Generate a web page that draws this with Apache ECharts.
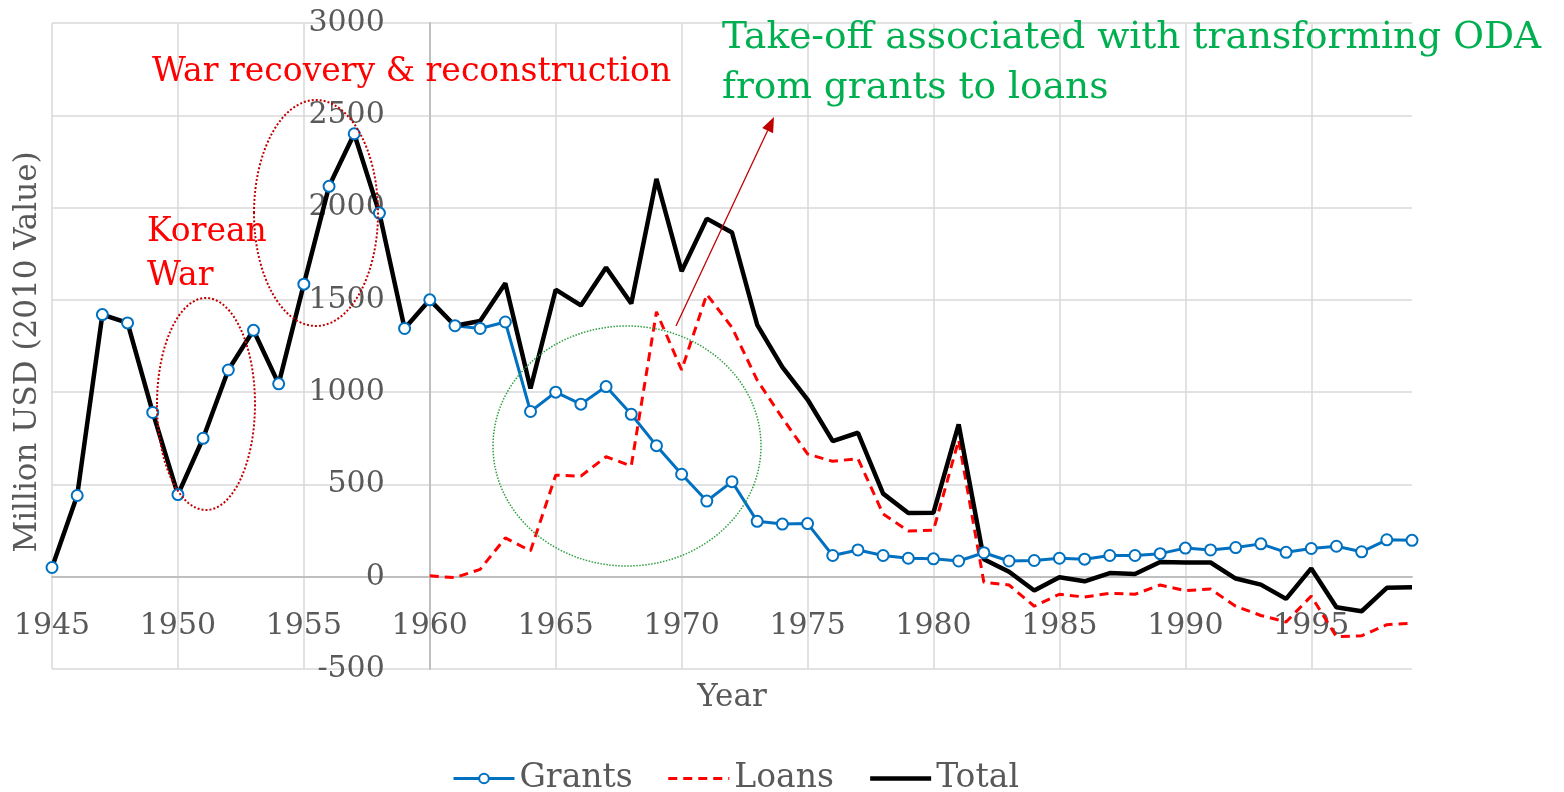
<!DOCTYPE html>
<html>
<head>
<meta charset="utf-8">
<script src="https://cdn.jsdelivr.net/npm/echarts@6/dist/echarts.min.js"></script>
<style>
html,body{margin:0;padding:0;background:#fff}
#chart{width:1564px;height:792px}
</style>
</head>
<body>
<div id="chart"></div>
<script>
// data (million USD, 2010 value)
var years = [1945,1946,1947,1948,1949,1950,1951,1952,1953,1954,1955,1956,1957,1958,1959,
  1960,1961,1962,1963,1964,1965,1966,1967,1968,1969,1970,1971,1972,1973,1974,
  1975,1976,1977,1978,1979,1980,1981,1982,1983,1984,1985,1986,1987,1988,1989,
  1990,1991,1992,1993,1994,1995,1996,1997,1998,1999];
var grants = [50,440,1420,1375,890,445,750,1120,1335,1045,1585,2115,2400,1970,1345,
  1500,1360,1345,1380,895,1000,935,1030,880,710,555,410,515,300,285,
  288,115,145,115,100,97,85,130,85,88,100,95,115,115,125,
  155,145,158,178,132,153,165,135,200,197];
var total = [50,440,1420,1375,890,445,750,1120,1335,1045,1585,2115,2400,1970,1345,
  1500,1360,1385,1590,1020,1555,1470,1675,1480,2155,1655,1940,1865,1365,1135,
  960,735,780,450,345,347,825,95,27,-75,-3,-25,20,15,80,
  77,77,-10,-43,-120,45,-165,-187,-60,-57];
var loanYears = [1960,1961,1962,1963,1964,1965,1966,1967,1968,1969,1970,1971,1972,1973,1974,
  1975,1976,1977,1978,1979,1980,1981,1982,1983,1984,1985,1986,1987,1988,1989,
  1990,1991,1992,1993,1994,1995,1996,1997,1998,1999];
var loans = [5,-5,40,210,140,550,545,650,600,1435,1120,1530,1350,1065,860,
  665,625,640,340,248,252,740,-30,-45,-160,-95,-110,-90,-95,-45,
  -75,-67,-160,-210,-245,-105,-325,-320,-260,-252];

var xRange = [1945, 1999];
var xStep = 5;
var yRange = [-500, 3000];
var yStep = 500;
var yCross = 1960;

var FONT = "'DejaVu Serif', serif";
var grey = '#595959';

function pairs(xs, vs) {
  return xs.map(function (x, i) { return [x, vs[i]]; });
}

var gridLeft = 52, gridRight = 152, gridTop = 23, gridBottom = 123;
var gridW = 1564 - gridLeft - gridRight;
var gridH = 792 - gridTop - gridBottom;
// the y axis crosses at 1960, the x axis at 0
var yOffset = -(yCross - xRange[0]) / (xRange[1] - xRange[0]) * gridW;
var xOffset = -(0 - yRange[0]) / (yRange[1] - yRange[0]) * gridH;

// arrow geometry
var a0 = [676, 326], a1 = [774, 117];
var dx = a1[0] - a0[0], dy = a1[1] - a0[1], len = Math.sqrt(dx * dx + dy * dy);
var ux = dx / len, uy = dy / len, nx = -uy, ny = ux;
var hb = [a1[0] - 15 * ux, a1[1] - 15 * uy];

var chart = echarts.init(document.getElementById('chart'));
chart.setOption({
  animation: false,
  textStyle: { fontFamily: FONT },
  grid: { left: gridLeft, right: gridRight, top: gridTop, bottom: gridBottom,
    containLabel: false, outerBoundsMode: 'none' },
  xAxis: {
    type: 'value',
    min: xRange[0], max: xRange[1], interval: xStep,
    offset: xOffset,
    name: 'Year', nameLocation: 'middle', nameGap: 106,
    nameTextStyle: { fontFamily: FONT, fontSize: 31, color: grey },
    axisLine: { onZero: false, lineStyle: { color: '#BFBFBF', width: 2 } },
    axisTick: { show: false },
    axisLabel: { fontFamily: FONT, fontSize: 30, color: grey, margin: 34, showMaxLabel: false,
      formatter: function (v) { return String(v); } },
    splitLine: { show: true, showMaxLine: false, lineStyle: { color: '#D9D9D9', width: 1.5 } }
  },
  yAxis: {
    type: 'value',
    min: yRange[0], max: yRange[1], interval: yStep,
    offset: yOffset,
    axisLine: { show: true, onZero: false, lineStyle: { color: '#BFBFBF', width: 2 } },
    axisTick: { show: false },
    axisLabel: { fontFamily: FONT, fontSize: 30, color: grey, margin: 45,
      formatter: function (v) { return String(v); } },
    splitLine: { show: true, lineStyle: { color: '#D9D9D9', width: 1.5 } }
  },
  legend: {
    left: 447, top: 757,
    itemWidth: 61, itemHeight: 12, itemGap: 34,
    textStyle: { fontFamily: FONT, fontSize: 33, color: grey },
    data: [
      { name: 'Grants', lineStyle: { width: 3 } },
      { name: 'Loans', itemStyle: { opacity: 0 }, lineStyle: { width: 3 } },
      { name: 'Total', itemStyle: { opacity: 0 }, lineStyle: { width: 4.5 } }
    ]
  },
  series: [
    {
      name: 'Grants', type: 'line', data: pairs(years, grants),
      symbol: 'emptyCircle', symbolSize: 11, showAllSymbol: true,
      lineStyle: { color: '#0070C0', width: 3 },
      itemStyle: { color: '#0070C0', borderWidth: 2 }
    },
    {
      name: 'Loans', type: 'line', data: pairs(loanYears, loans),
      symbol: 'none',
      lineStyle: { color: '#FF0000', width: 3, type: [9, 6] },
      itemStyle: { color: '#FF0000' }
    },
    {
      name: 'Total', type: 'line', data: pairs(years, total),
      symbol: 'none',
      lineStyle: { color: '#000000', width: 4.5 },
      itemStyle: { color: '#000000' }
    }
  ],
  graphic: [
    { type: 'text', rotation: Math.PI / 2, x: 28, y: 352,
      style: { text: 'Million USD (2010 Value)', fill: grey, font: '31px ' + FONT, textAlign: 'center', textVerticalAlign: 'middle' } },
    { type: 'text', x: 152, y: 72, z: 10,
      style: { text: 'War recovery & reconstruction', fill: '#FF0000', font: '33px ' + FONT, textVerticalAlign: 'middle' } },
    { type: 'text', x: 147, y: 210, z: 10,
      style: { text: 'Korean\nWar', fill: '#FF0000', font: '33px ' + FONT, lineHeight: 44 } },
    { type: 'text', x: 722, y: 13, z: 10,
      style: { text: 'Take-off associated with transforming ODA\nfrom grants to loans', fill: '#00B050', font: '37.5px ' + FONT, lineHeight: 50 } },
    { type: 'ellipse', z: 10, shape: { cx: 206, cy: 404, rx: 49, ry: 106 },
      style: { fill: 'none', stroke: '#C00000', lineWidth: 2, lineDash: [2, 2] } },
    { type: 'ellipse', z: 10, shape: { cx: 316, cy: 213, rx: 62, ry: 113 },
      style: { fill: 'none', stroke: '#C00000', lineWidth: 2, lineDash: [2, 2] } },
    { type: 'ellipse', z: 10, shape: { cx: 627, cy: 446, rx: 134, ry: 120 },
      style: { fill: 'none', stroke: '#2E9E3E', lineWidth: 1.5, lineDash: [1.5, 1.5] } },
    { type: 'line', z: 10, shape: { x1: a0[0], y1: a0[1], x2: hb[0], y2: hb[1] },
      style: { stroke: '#C00000', lineWidth: 1.3 } },
    { type: 'polygon', z: 10,
      shape: { points: [a1, [hb[0] + 6 * nx, hb[1] + 6 * ny], [hb[0] - 6 * nx, hb[1] - 6 * ny]] },
      style: { fill: '#C00000' } }
  ]
});
</script>
</body>
</html>
